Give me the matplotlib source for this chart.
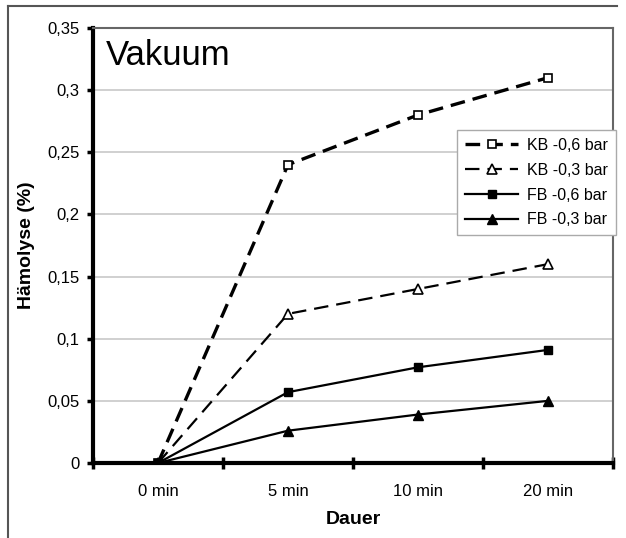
import matplotlib.pyplot as plt
from matplotlib.lines import Line2D

plt.rcParams['font.family'] = ['Liberation Sans', 'DejaVu Sans']

dauer = ['0 min', '5 min', '10 min', '20 min']
kb_06 = [0, 0.24, 0.28, 0.31]
kb_03 = [0, 0.12, 0.14, 0.16]
fb_06 = [0, 0.057, 0.077, 0.091]
fb_03 = [0, 0.026, 0.039, 0.050]
y_ticks = [0, 0.05, 0.1, 0.15, 0.2, 0.25, 0.3, 0.35]
y_labels = ['0', '0,05', '0,1', '0,15', '0,2', '0,25', '0,3', '0,35']

fig = plt.figure(figsize=(6.26, 5.38), dpi=100)
ax = fig.add_axes([0.1486, 0.1394, 0.8306, 0.8086])

# aeusserer Rahmen (nur oben und links sichtbar)
fig.add_artist(Line2D([0.012, 0.985], [0.989, 0.989], color='#555555', lw=1.5))
fig.add_artist(Line2D([0.012, 0.012], [0.0, 0.989], color='#555555', lw=1.5))

x = list(range(len(dauer)))
ax.plot(x, kb_06, color='black', lw=2.4, dashes=(4.4, 2.4), marker='s', ms=6,
        mfc='white', mec='black', mew=1.2, label='KB -0,6 bar', zorder=3)
ax.plot(x, kb_03, color='black', lw=1.6, dashes=(6.5, 3.6), marker='^', ms=7,
        mfc='white', mec='black', mew=1.2, label='KB -0,3 bar', zorder=3)
ax.plot(x, fb_06, color='black', lw=1.6, marker='s', ms=6,
        label='FB -0,6 bar', zorder=3)
ax.plot(x, fb_03, color='black', lw=1.6, marker='^', ms=7.5,
        label='FB -0,3 bar', zorder=3)

ax.set_xlim(-0.5, 3.5)
ax.set_ylim(0, 0.35)
ax.set_yticks(y_ticks)
ax.set_yticklabels(y_labels, fontsize=12)
ax.set_xticks(x)
ax.set_xticklabels(dauer, fontsize=12)
ax.tick_params(axis='x', length=0, pad=15)
ax.set_xticks([-0.5, 0.5, 1.5, 2.5, 3.5], minor=True)
ax.tick_params(axis='x', which='minor', direction='inout', length=8, width=2.5)
ax.tick_params(axis='y', direction='out', length=4.5, width=2.5, pad=5)

ax.yaxis.grid(True, color='#c8c8c8', lw=1.2)
ax.set_axisbelow(True)

ax.spines['left'].set_linewidth(3)
ax.spines['bottom'].set_linewidth(3)
ax.spines['top'].set_color('#666666')
ax.spines['right'].set_color('#666666')
ax.spines['top'].set_linewidth(1.5)
ax.spines['right'].set_linewidth(1.5)

ax.set_xlabel('Dauer', fontsize=14, fontweight='bold', labelpad=9)
ax.set_ylabel('Hämolyse (%)', fontsize=14, fontweight='bold', labelpad=9)

ax.text(0.025, 0.975, 'Vakuum', transform=ax.transAxes, fontsize=25,
        va='top', ha='left')

leg = ax.legend(loc='upper right', bbox_to_anchor=(1.005, 0.766), fontsize=11.5,
                handlelength=3.3, handletextpad=0.55, fancybox=False, framealpha=1,
                edgecolor='#aaaaaa', borderaxespad=0, labelspacing=0.62,
                borderpad=0.5)
leg.get_frame().set_linewidth(1.0)

plt.savefig('out.png', dpi=100)
